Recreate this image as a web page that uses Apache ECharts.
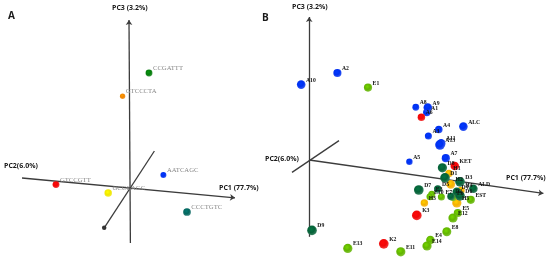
<!DOCTYPE html>
<html><head><meta charset="utf-8">
<style>html,body{margin:0;padding:0;background:#fff}#c{width:550px;height:262px;filter:blur(0.25px)}</style>
<script src="https://cdn.jsdelivr.net/npm/echarts@6/dist/echarts.min.js"></script>
</head><body><div id="c"></div>
<script>
// Panel A: loadings (name, PC1-ish, PC3-ish, depth)
const aNames=['CCGATTT','GTCCCTA','AATCAGC','GTCCGTT','GCCGAGC','CCCTGTC'];
const aX=[9.5,-3.7,16.7,-37,-10.9,28.5];
const aY=[57.5,45.9,6.5,1.7,-2.5,-12];
const aDepth=[3.2,2.5,2.8,3.2,3.5,3.6];
const aColors=['#067d0c','#f08400','#0030f0','#f00808','#f0e800','#04665f'];
// Panel B: scores by group
const blueNames=['A10','A2','A8','A1','A9','A4','A3','ALC','A11','A13','A7','A5'];
const blueX=[-4.4,13.7,52.9,58.4,58.9,64.4,59.2,76.7,65.6,65,67.9,49.7];
const blueY=[37.7,43.5,26.4,23.7,26.2,15.2,12,16.7,8.3,7.5,0.9,-0.9];
const blueDepth=[4,3.8,3.2,3.5,4,3.5,3.3,4,4,4.5,3.8,3];
const orangeNames=['H1','H2','H4','H5','H3'];
const orangeX=[69.5,70.4,75.5,73.4,57.2];
const orangeY=[-6.7,-12.2,-15.2,-21.5,-21.5];
const orangeDepth=[3.5,4,3.5,4.3,3.5];
const greenNames=['E1','E3','E10','E7','E6','EST','E5','E12','E8','E4','E14','E11','E13'];
const greenX=[29,60.9,60,65.7,71.5,80.4,73.9,71.5,68.4,60.2,58.5,45.4,18.9];
const greenY=[36.2,-17.2,-18.4,-18.5,-18.8,-19.9,-26.5,-29,-35.9,-40,-43,-45.9,-44.2];
const greenDepth=[3.8,3.3,3.3,3.3,3.3,3.8,3.8,4.3,4.2,4,4.3,4.3,4.3];
const darkNames=['D8','D1','D3','D7','D5','D2','D4','D6','ALD','D9'];
const darkX=[66.2,67.5,75,54.4,63.9,70.5,73.4,75,81.7,1];
const darkY=[-3.9,-8.9,-10.9,-15,-14.5,-18.2,-15.9,-17.9,-14.4,-35.2];
const darkDepth=[4.3,4.5,4.5,4.5,3.5,3.5,4,4.5,4,4.5];
const redNames=['A6','KET','K3','K2'];
const redX=[55.7,72.4,53.4,36.9];
const redY=[21.4,-3,-27.7,-41.9];
const redDepth=[3.5,4,4.5,4.5];
// Axis lines: [x0,y0,x1,y1]
const aPC3=[0.2,-27.5,-0.5,84], aPC1=[-54,5,52.5,-4.9], aPC2=[12.2,18.5,-12.9,-19.9];
const bPC3=[-0.4,-38.4,-0.4,71.5], bPC1=[-0.4,0,116.7,-16.7], bPC2=[14.5,9.7,-9,-6.2];

function sphere(c){return {type:'radial',x:0.42,y:0.38,r:0.62,colorStops:[{offset:0,color:echarts.color.lift(c,-0.2)},{offset:0.55,color:c},{offset:1,color:echarts.color.lift(c,0.2)}]};}
function axisSeries(idx,seg,arrow){return {type:'lines',coordinateSystem:'cartesian2d',xAxisIndex:idx,yAxisIndex:idx,silent:true,
  polyline:false,symbol:['none',arrow?'arrow':'none'],symbolSize:5,
  lineStyle:{color:'#3c3c3c',width:1.3,opacity:1,curveness:0},
  data:[{coords:[[seg[0],seg[1]],[seg[2],seg[3]]]}],z:1};}
function pts(idx,names,x,y,d,colors,labelColor,font,fs){return {type:'scatter',xAxisIndex:idx,yAxisIndex:idx,silent:true,z:3,
  data:names.map((n,i)=>({name:n,value:[x[i],y[i],d[i]],itemStyle:{color:sphere(Array.isArray(colors)?colors[i]:colors),opacity:1}})),
  symbolSize:v=>v[2]*2.15,
  label:{show:true,position:'right',distance:0.5,formatter:'{b}',color:labelColor,fontFamily:font,fontSize:fs,fontWeight:labelColor==='#111'?'bold':'normal'},
  labelLayout:{dy:-4.5}};}
const hide={show:false};
const chart=echarts.init(document.getElementById('c'),null,{renderer:'canvas'});
const title=(t,x,y,s)=>({type:'text',left:x,top:y,style:{text:t,font:'bold '+s+'px "Open Sans"',fill:'#1a1a1a'},z:10});
chart.setOption({animation:false,backgroundColor:'#fff',
 grid:[{left:0,top:0,width:270,height:262},{left:270,top:0,width:280,height:262}],
 xAxis:[{type:'value',gridIndex:0,min:-65,max:70,...hide},{type:'value',gridIndex:1,min:-20,max:120,...hide}],
 yAxis:[{type:'value',gridIndex:0,min:-37,max:94,...hide},{type:'value',gridIndex:1,min:-51,max:80,...hide}],
 series:[
  axisSeries(0,aPC3,true),axisSeries(0,aPC1,true),axisSeries(0,aPC2,false),
  {type:'scatter',xAxisIndex:0,yAxisIndex:0,silent:true,symbolSize:4.5,itemStyle:{color:'#333',opacity:1},data:[[aPC2[2],aPC2[3]]],z:2},
  axisSeries(1,bPC3,true),axisSeries(1,bPC1,true),axisSeries(1,bPC2,false),
  pts(0,aNames,aX,aY,aDepth,aColors,'#888','Liberation Serif',6.7),
  pts(1,blueNames,blueX,blueY,blueDepth,'#0030f0','#111','Liberation Serif',5.7),
  pts(1,orangeNames,orangeX,orangeY,orangeDepth,'#f5b000','#111','Liberation Serif',5.7),
  pts(1,greenNames,greenX,greenY,greenDepth,'#62b400','#111','Liberation Serif',5.7),
  pts(1,darkNames,darkX,darkY,darkDepth,'#056238','#111','Liberation Serif',5.7),
  pts(1,redNames,redX,redY,redDepth,'#f00808','#111','Liberation Serif',5.7)
 ],
 graphic:[
  title('A',8,11,10),title('B',262,13,10),
  title('PC3 (3.2%)',112,4,7),title('PC2(6.0%)',4,162,7),title('PC1 (77.7%)',219,184,7),
  title('PC3 (3.2%)',292,3,7),title('PC2(6.0%)',265,155,7),title('PC1 (77.7%)',506,174,7)
 ]
});
</script></body></html>
